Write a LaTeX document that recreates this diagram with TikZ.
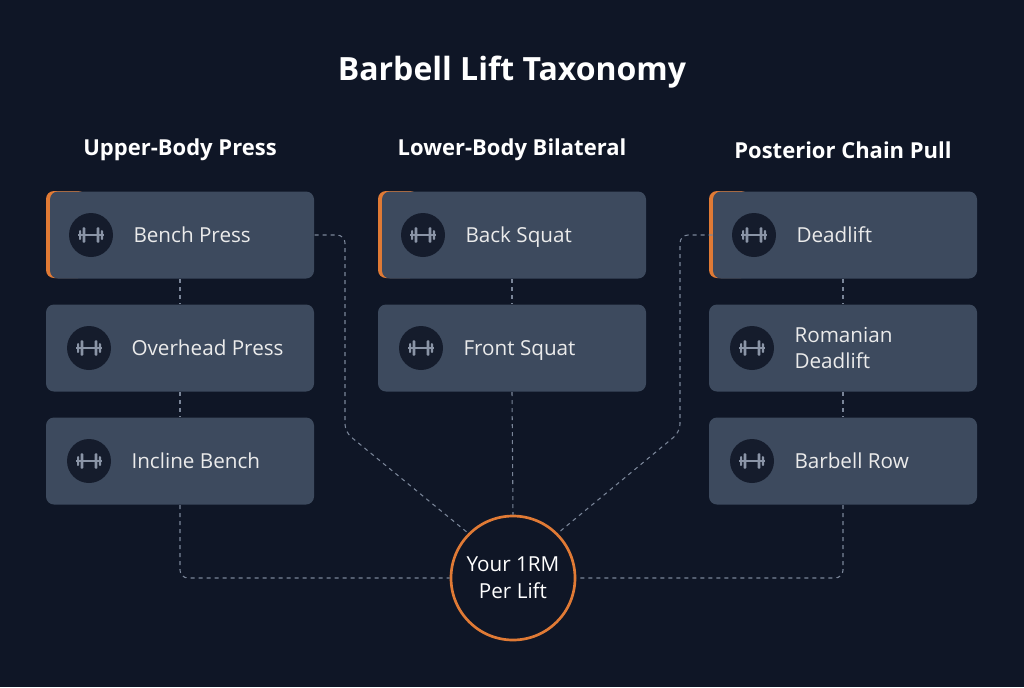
\documentclass[tikz,border=0pt]{standalone}
\usepackage{fontspec}
\setmainfont{Open Sans}
\definecolor{bgc}{HTML}{0F1626}
\definecolor{cardc}{HTML}{3D4A5E}
\definecolor{iconc}{HTML}{151C2C}
\definecolor{barc}{HTML}{8A94A6}
\definecolor{orng}{HTML}{E07A35}
\definecolor{dashc}{HTML}{7A8598}
\tikzset{every picture/.style={line width=0.75pt},
  card/.style={fill=cardc,rounded corners=6pt,minimum width=201pt,minimum height=65.25pt,inner sep=0pt},
  first/.style={minimum width=198pt},
  lift/.style={anchor=west,inner sep=0.75pt,text=white!92!black,font=\fontsize{15.5}{19}\selectfont,align=left},
  head/.style={text=white,font=\bfseries\fontsize{16.5}{20}\selectfont},
  link/.style={draw=dashc,dashed,line width=0.8pt,rounded corners=6pt}}
\newcommand{\liftcard}[5][]{% options, name, x, y, text
  \node[card,#1] (#2) at (#3,#4) {};
  \node[circle,fill=iconc,minimum size=33pt,inner sep=0pt] (#2i) at (#3-91,#4) {};
  \fill[barc] ([xshift=-9.5pt,yshift=-0.7pt]#2i.center) rectangle ([xshift=9.5pt,yshift=0.7pt]#2i.center);
  \foreach \s in {-1,1}{
    \fill[barc,rounded corners=0.6pt] ([xshift=\s*5.3pt-1pt,yshift=-5.8pt]#2i.center) rectangle ([xshift=\s*5.3pt+1pt,yshift=5.8pt]#2i.center);
    \fill[barc,rounded corners=0.6pt] ([xshift=\s*8.2pt-0.8pt,yshift=-3.6pt]#2i.center) rectangle ([xshift=\s*8.2pt+0.8pt,yshift=3.6pt]#2i.center);}
  \node[lift] (#2t) at (#3-50,#4+2.5) {\strut#5\strut};}

\begin{document}
\begin{tikzpicture}[x=0.75pt,y=0.75pt,yscale=-1,xscale=1]
  \fill[bgc] (0,0) rectangle (1024,687);
  \useasboundingbox (0,0) rectangle (1024,687);

  %Titles
  \node[text=white,font=\bfseries\fontsize{24}{30}\selectfont] (title) at (512,72) {Barbell Lift Taxonomy};
  \node[head] (hup) at (180,150) {Upper-Body Press};
  \node[head] (hlow) at (512,150) {Lower-Body Bilateral};
  \node[head] (hpost) at (843,150) {Posterior Chain Pull};

  %Orange accents
  \foreach \x in {46,378,709}
    \fill[orng,rounded corners=6pt] (\x,191) rectangle (\x+40,278);

  %Cards
  \liftcard[first]{bp}{182}{235}{Bench Press}
  \liftcard{ohp}{180}{348}{Overhead Press}
  \liftcard{inc}{180}{461}{Incline Bench}
  \liftcard[first]{bs}{514}{235}{Back Squat}
  \liftcard{fs}{512}{348}{Front Squat}
  \liftcard[first]{dl}{845}{235}{Deadlift}
  \liftcard{rdl}{843}{348}{Romanian\\Deadlift}
  \liftcard{row}{843}{461}{Barbell Row}

  %Hub
  \node[circle,draw=orng,line width=2pt,fill=bgc,minimum size=93pt,inner sep=0pt,align=center,text=white,font=\fontsize{15.5}{20}\selectfont] (hub) at (513,578) {Your 1RM\\Per Lift};

  %Links
  \draw[link] (ohp.north |- bp.south) -- (ohp.north);
  \draw[link] (ohp.south) -- (inc.north);
  \draw[link] (inc.south) -- (inc.south |- hub.west) -- (hub.west);
  \draw[link] (rdl.north |- dl.south) -- (rdl.north);
  \draw[link] (rdl.south) -- (row.north);
  \draw[link] (row.south) -- (row.south |- hub.east) -- (hub.east);
  \draw[link] (fs.north |- bs.south) -- (fs.north);
  \draw[link] (fs.south) -- (hub.north);
  \draw[link] (bp.east) -- (345,235) -- (345,432) -- (hub.135);
  \draw[link] (dl.west) -- (680,235) -- (680,432) -- (hub.45);
\end{tikzpicture}
\end{document}
